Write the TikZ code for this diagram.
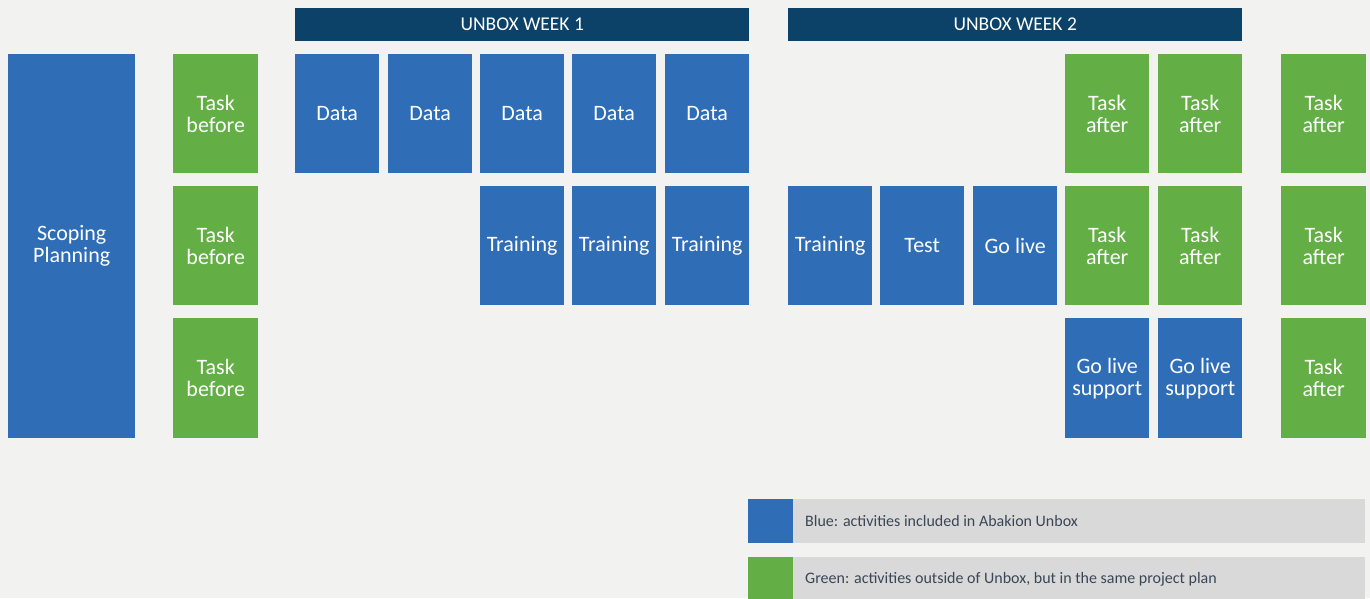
\documentclass[tikz,border=0pt]{standalone}
\usepackage{fontspec}
\setmainfont{Carlito}
\definecolor{pagebg}{HTML}{F2F2F0}
\definecolor{unboxblue}{HTML}{2F6DB6}
\definecolor{unboxgreen}{HTML}{63AE45}
\definecolor{weekbar}{HTML}{0C4168}
\definecolor{legendbar}{HTML}{D9D9D9}
\definecolor{legendtext}{HTML}{3A4656}
\tikzset{
	box/.style={anchor=north west, inner sep=0pt, minimum width=84pt, minimum height=119pt,
		text=white, align=center, font=\fontsize{22}{22}\selectfont},
	bluebox/.style={box, fill=unboxblue},
	greenbox/.style={box, fill=unboxgreen},
	weekhead/.style={anchor=north west, inner sep=0pt, minimum width=454pt, minimum height=33pt,
		fill=weekbar, text=white, font=\fontsize{19.5}{21}\selectfont},
	swatch/.style={anchor=north west, inner sep=0pt, minimum width=45pt, minimum height=44pt},
	legendrow/.style={anchor=north west, inner sep=0pt, minimum width=572pt, minimum height=44pt,
		fill=legendbar},
	legendlabel/.style={anchor=west, inner sep=0pt, text=legendtext, font=\fontsize{16}{18}\selectfont}
}
\begin{document}
\begin{tikzpicture}[x=1pt, y=-1pt]
			%%%%% START %%%%%
			\useasboundingbox[fill=pagebg] (0, 0) rectangle (1370, 598);
			
			% scoping and tasks before
			\node[bluebox, minimum width=127pt, minimum height=384pt] (scoping) at (8, 54) {Scoping\\Planning};
			\node[greenbox, minimum width=85pt] (before1) at (173, 54) {Task\\before};
			\node[greenbox, minimum width=85pt] (before2) at (173, 186) {Task\\before};
			\node[greenbox, minimum width=85pt, minimum height=120pt] (before3) at (173, 318) {Task\\before};
			
			% week 1
			\node[weekhead] (week1) at (295, 8) {UNBOX WEEK 1};
			\node[bluebox] (data1) at (295, 54) {Data};
			\node[bluebox] (data2) at (388, 54) {Data};
			\node[bluebox] (data3) at (480, 54) {Data};
			\node[bluebox] (data4) at (572, 54) {Data};
			\node[bluebox] (data5) at (665, 54) {Data};
			\node[bluebox] (train1) at (480, 186) {Training};
			\node[bluebox] (train2) at (572, 186) {Training};
			\node[bluebox] (train3) at (665, 186) {Training};
			
			% week 2
			\node[weekhead] (week2) at (788, 8) {UNBOX WEEK 2};
			\node[greenbox] (after1) at (1065, 54) {Task\\after};
			\node[greenbox] (after2) at (1158, 54) {Task\\after};
			\node[bluebox] (train4) at (788, 186) {Training};
			\node[bluebox] (test) at (880, 186) {Test};
			\node[bluebox] (golive) at (973, 186) {Go live};
			\node[greenbox] (after3) at (1065, 186) {Task\\after};
			\node[greenbox] (after4) at (1158, 186) {Task\\after};
			\node[bluebox, minimum height=120pt] (support1) at (1065, 318) {Go live\\support};
			\node[bluebox, minimum height=120pt] (support2) at (1158, 318) {Go live\\support};
			
			% tasks after
			\node[greenbox, minimum width=85pt] (after5) at (1281, 54) {Task\\after};
			\node[greenbox, minimum width=85pt] (after6) at (1281, 186) {Task\\after};
			\node[greenbox, minimum width=85pt, minimum height=120pt] (after7) at (1281, 318) {Task\\after};
			
			% legend
			\node[legendrow] (bluerow) at (793, 499) {};
			\node[swatch, fill=unboxblue] (blueswatch) at (748, 499) {};
			\node[legendlabel] (bluetext) at (805, 521) {Blue: activities included in Abakion Unbox};
			\node[legendrow] (greenrow) at (793, 557) {};
			\node[swatch, fill=unboxgreen] (greenswatch) at (748, 557) {};
			\node[legendlabel] (greentext) at (805, 579) {Green: activities outside of Unbox, but in the same project plan};
			%%%%% END %%%%%
\end{tikzpicture}
\end{document}
